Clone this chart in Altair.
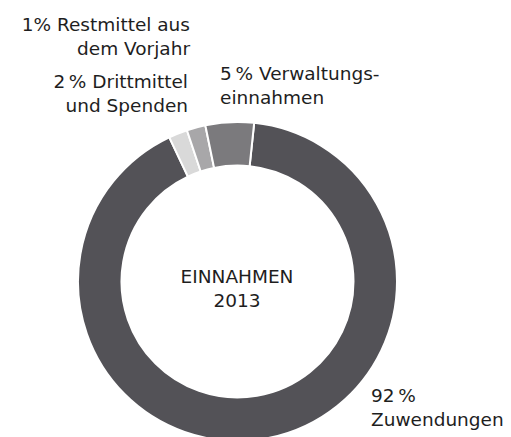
import altair as alt
import pandas as pd
import math

# Data
categories = ["Zuwendungen", "Restmittel aus dem Vorjahr", "Drittmittel und Spenden", "Verwaltungseinnahmen"]
shares = [91.3, 1.9, 1.9, 4.9]
colors = ["#535257", "#d9d9d9", "#a8a7a9", "#7b7a7d"]

label_restmittel = ["1% Restmittel aus", "dem Vorjahr"]
label_dritt = ["2\u2009%  Drittmittel", "und Spenden"]
label_verw = ["5\u2009% Verwaltungs-", "einnahmen"]
label_zuw = ["92\u2009%", "Zuwendungen"]
center_text = ["EINNAHMEN", "2013"]

df = pd.DataFrame({"cat": categories, "share": shares, "order": list(range(len(categories)))})

start = math.radians(6)
W, H = 495, 429
cx, cy = 229.5, 273.5

donut = alt.Chart(df).mark_arc(outerRadius=159.5, innerRadius=116, stroke="white", strokeWidth=2).encode(
    theta=alt.Theta("share:Q", stack=True, scale=alt.Scale(range=[start, start + 2 * math.pi])),
    order=alt.Order("order:Q"),
    color=alt.Color("cat:N", scale=alt.Scale(domain=categories, range=colors), legend=None),
    x=alt.value(cx),
    y=alt.value(cy),
)

FONT = "DejaVu Sans"
TC = "#1e1e1e"

def text_layer(lines, x, y, align, size=18.5):
    d = pd.DataFrame({"t": ["|".join(lines)]})
    return alt.Chart(d).mark_text(
        align=align, baseline="alphabetic", font=FONT, fontSize=size, lineHeight=24,
        color=TC, lineBreak="|",
    ).encode(text="t:N", x=alt.value(x), y=alt.value(y))

layers = [
    donut,
    text_layer(label_restmittel, 182, 22.5, "right"),
    text_layer(label_dritt, 180, 80, "right"),
    text_layer(label_verw, 212, 72, "left"),
    text_layer(label_zuw, 363, 394, "left"),
    text_layer(center_text, 229, 275, "center"),
]

chart = alt.layer(*layers).properties(
    width=W, height=H, padding=0, autosize=alt.AutoSizeParams(type="none")
).configure_view(stroke=None)

chart.save("out.html", embed_options={"renderer": "svg", "actions": False})
